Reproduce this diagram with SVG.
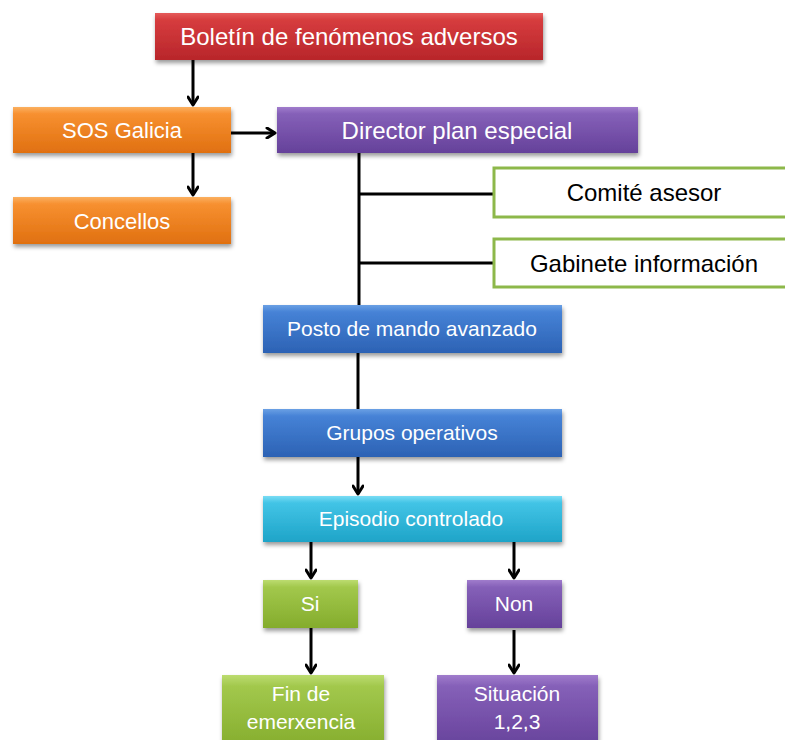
<svg xmlns="http://www.w3.org/2000/svg" width="785" height="740" viewBox="0 0 785 740">
<defs>
<linearGradient id="gRed" x1="0" y1="0" x2="0" y2="1"><stop offset="0" stop-color="#e55a5a"/><stop offset="0.15" stop-color="#d63c3e"/><stop offset="1" stop-color="#b8262a"/></linearGradient>
<linearGradient id="gOrange" x1="0" y1="0" x2="0" y2="1"><stop offset="0" stop-color="#fbb060"/><stop offset="0.15" stop-color="#f79030"/><stop offset="1" stop-color="#e07010"/></linearGradient>
<linearGradient id="gPurple" x1="0" y1="0" x2="0" y2="1"><stop offset="0" stop-color="#a07ccc"/><stop offset="0.15" stop-color="#8560b8"/><stop offset="1" stop-color="#65419a"/></linearGradient>
<linearGradient id="gBlue" x1="0" y1="0" x2="0" y2="1"><stop offset="0" stop-color="#6aa0e4"/><stop offset="0.15" stop-color="#4682d6"/><stop offset="1" stop-color="#2c62b4"/></linearGradient>
<linearGradient id="gCyan" x1="0" y1="0" x2="0" y2="1"><stop offset="0" stop-color="#7adcf4"/><stop offset="0.15" stop-color="#42c4e6"/><stop offset="1" stop-color="#1ea4c8"/></linearGradient>
<linearGradient id="gGreen" x1="0" y1="0" x2="0" y2="1"><stop offset="0" stop-color="#bcdc70"/><stop offset="0.15" stop-color="#a2c84c"/><stop offset="1" stop-color="#84ac2c"/></linearGradient>
<filter id="sh" x="-10%" y="-20%" width="120%" height="150%"><feDropShadow dx="1" dy="3" stdDeviation="2" flood-color="#000" flood-opacity="0.4"/></filter>
<marker id="arr" viewBox="0 0 12 12" refX="10" refY="6" markerWidth="12" markerHeight="12" markerUnits="userSpaceOnUse" orient="auto"><path d="M2,1 L10,6 L2,11" fill="none" stroke="#000" stroke-width="3" stroke-linecap="round" stroke-linejoin="round"/></marker>
</defs>
<style>
.box{filter:url(#sh)}
.t{font-family:"Liberation Sans","Noto Sans",sans-serif;fill:#fff;text-anchor:middle}
.s24{font-size:24px}
.s22{font-size:22px}
.s21{font-size:21px}
.tb{font-family:"Liberation Sans","Noto Sans",sans-serif;fill:#000;text-anchor:middle;font-size:24px}
.wb{fill:#fff;stroke:#8db84a;stroke-width:3}
.c{stroke:#000;stroke-width:3;fill:none}
</style>
<g id="connectors">
<line class="c" x1="193" y1="60" x2="193" y2="105" marker-end="url(#arr)"/>
<line class="c" x1="231" y1="133" x2="275" y2="133" marker-end="url(#arr)"/>
<line class="c" x1="193" y1="153" x2="193" y2="195" marker-end="url(#arr)"/>
<line class="c" x1="359" y1="153" x2="359" y2="305"/>
<line class="c" x1="359" y1="194" x2="494" y2="194"/>
<line class="c" x1="359" y1="263" x2="494" y2="263"/>
<line class="c" x1="358" y1="353" x2="358" y2="409"/>
<line class="c" x1="358" y1="457" x2="358" y2="494" marker-end="url(#arr)"/>
<line class="c" x1="311" y1="542" x2="311" y2="578" marker-end="url(#arr)"/>
<line class="c" x1="514" y1="542" x2="514" y2="578" marker-end="url(#arr)"/>
<line class="c" x1="311" y1="628" x2="311" y2="673" marker-end="url(#arr)"/>
<line class="c" x1="514" y1="630" x2="514" y2="673" marker-end="url(#arr)"/>
</g>
<g id="boletin"><rect class="box" x="155" y="13" width="388" height="47" fill="url(#gRed)"/><text class="t s24" x="349" y="45">Boletín de fenómenos adversos</text></g>
<g id="sos"><rect class="box" x="13" y="107" width="218" height="46" fill="url(#gOrange)"/><text class="t s22" x="122" y="138">SOS Galicia</text></g>
<g id="concellos"><rect class="box" x="13" y="197" width="218" height="47" fill="url(#gOrange)"/><text class="t s22" x="122" y="229">Concellos</text></g>
<g id="director"><rect class="box" x="277" y="107" width="361" height="46" fill="url(#gPurple)"/><text class="t s24" x="457" y="139">Director plan especial</text></g>
<g id="comite"><rect class="wb" x="494" y="168" width="300" height="49"/><text class="tb" x="644" y="201">Comité asesor</text></g>
<g id="gabinete"><rect class="wb" x="494" y="239" width="300" height="48"/><text class="tb" x="644" y="272">Gabinete información</text></g>
<g id="posto"><rect class="box" x="263" y="305" width="299" height="48" fill="url(#gBlue)"/><text class="t s21" x="412" y="336">Posto de mando avanzado</text></g>
<g id="grupos"><rect class="box" x="263" y="409" width="299" height="48" fill="url(#gBlue)"/><text class="t s21" x="412" y="440">Grupos operativos</text></g>
<g id="episodio"><rect class="box" x="263" y="496" width="299" height="46" fill="url(#gCyan)"/><text class="t s21" x="411" y="526">Episodio controlado</text></g>
<g id="si"><rect class="box" x="263" y="580" width="95" height="48" fill="url(#gGreen)"/><text class="t s21" x="310" y="611">Si</text></g>
<g id="non"><rect class="box" x="467" y="580" width="95" height="48" fill="url(#gPurple)"/><text class="t s21" x="514" y="611">Non</text></g>
<g id="fin"><rect class="box" x="222" y="675" width="162" height="75" fill="url(#gGreen)"/><text class="t s21" x="301" y="701">Fin de</text><text class="t s21" x="301" y="729">emerxencia</text></g>
<g id="situacion"><rect class="box" x="437" y="675" width="161" height="75" fill="url(#gPurple)"/><text class="t s21" x="517" y="701">Situación</text><text class="t s21" x="517" y="729">1,2,3</text></g>
</svg>
